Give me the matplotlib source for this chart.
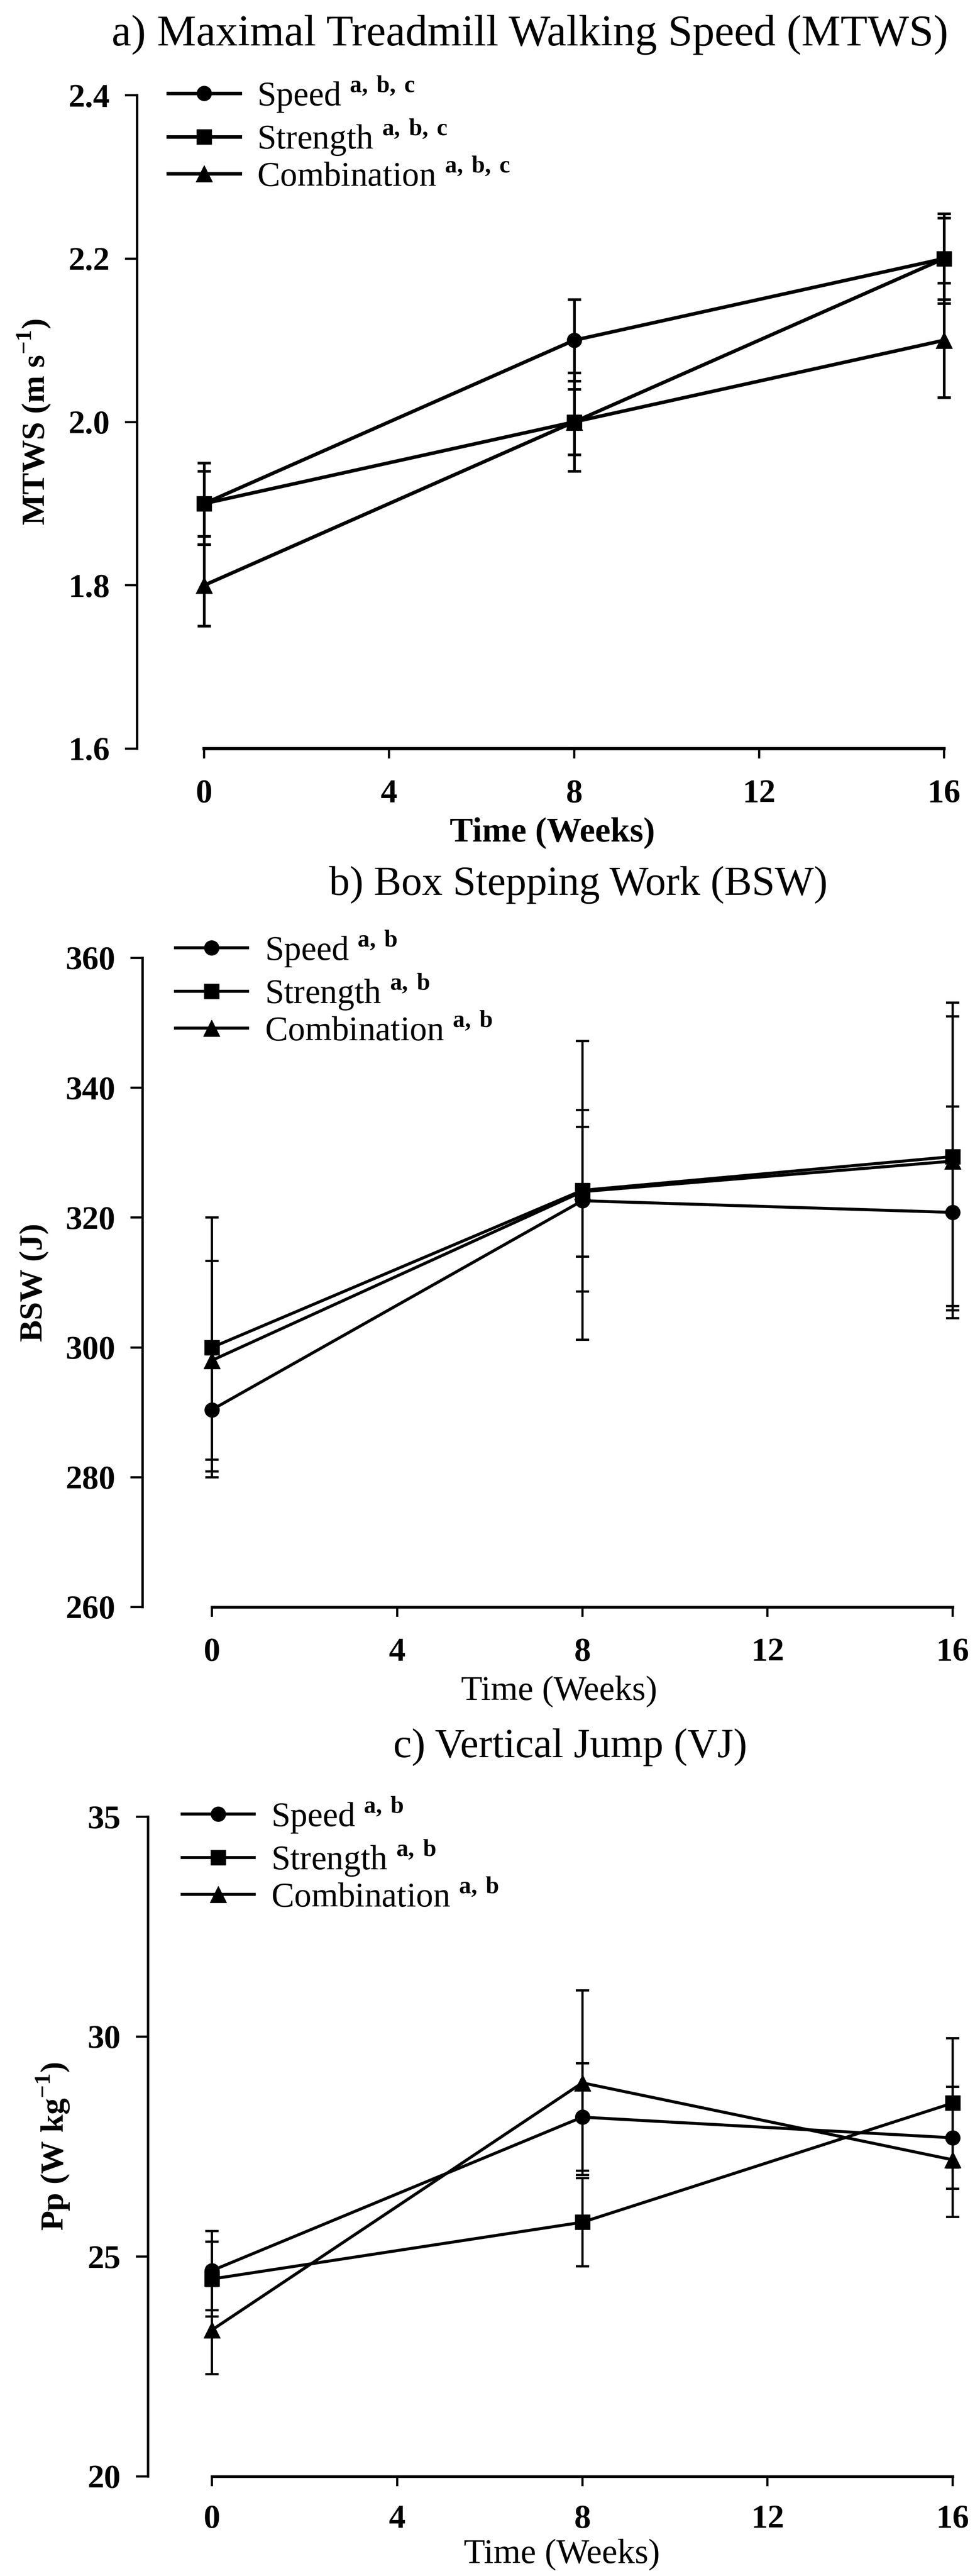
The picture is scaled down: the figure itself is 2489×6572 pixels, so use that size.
import matplotlib
matplotlib.use("Agg")
import matplotlib.pyplot as plt

# font setup: Times-like serif everywhere, bold superscripts through mathtext
plt.rcParams['font.family'] = ['Liberation Serif', 'DejaVu Serif']
plt.rcParams['mathtext.fontset'] = 'custom'
plt.rcParams['mathtext.rm'] = 'Liberation Serif'
plt.rcParams['mathtext.bf'] = 'Liberation Serif:bold'

# ---- data ----
weeks = [0, 8, 16]
groups = ['Speed', 'Strength', 'Combination']
markers = ['o', 's', '^']

# a) MTWS (m/s)
mtws_speed = [1.90, 2.10, 2.20]
mtws_speed_sd = [0.05, 0.05, 0.05]
mtws_strength = [1.90, 2.00, 2.20]
mtws_strength_sd = [0.04, 0.06, 0.055]
mtws_comb = [1.80, 2.00, 2.10]
mtws_comb_sd = [0.05, 0.04, 0.07]

# b) BSW (J)
bsw_speed = [290.4, 322.6, 320.8]
bsw_speed_sd = [9.5, 14.0, 16.3]
bsw_strength = [300.0, 324.2, 329.4]
bsw_strength_sd = [20.0, 23.0, 23.7]
bsw_comb = [298.0, 324.0, 328.7]
bsw_comb_sd = [15.3, 10.0, 22.3]

# c) VJ peak power (W/kg)
vj_speed = [24.68, 28.17, 27.70]
vj_speed_sd = [0.90, 1.22, 1.16]
vj_strength = [24.49, 25.78, 28.49]
vj_strength_sd = [0.85, 1.00, 1.47]
vj_comb = [23.33, 28.95, 27.20]
vj_comb_sd = [1.00, 2.10, 1.30]

x_ticks = [0, 4, 8, 12, 16]

W, H = 2489, 6572
fig = plt.figure(figsize=(W / 100, H / 100), dpi=100)


def make_axes(spine_px, x0_px, x16_px, top_px, bottom_px):
    # place an axes so the data coordinates land on the reference pixels
    ppw = (x16_px - x0_px) / 16.0
    xl = (spine_px - x0_px) / ppw
    xr = 16.5
    right_px = x0_px + xr * ppw
    ax = fig.add_axes([spine_px / W, 1 - bottom_px / H,
                       (right_px - spine_px) / W, (bottom_px - top_px) / H])
    ax.set_xlim(xl, xr)
    return ax


def draw_panel(ax, series, sds, ylim, yticks, yfmt, ylabel, sup, dark, leg_xy,
               xpad=38, xlabpad=14):
    lw = 6.5 if dark else 5.5
    handles = []
    for vals, sd, m in zip(series, sds, markers):
        ms = 30 if m == '^' else 27
        eb = ax.errorbar(weeks, vals, yerr=sd, color='black', marker=m,
                         ms=ms, lw=lw, elinewidth=lw * 0.75, capsize=12,
                         capthick=lw * 0.75, clip_on=False, zorder=3)
        handles.append(eb.lines[0])
    ax.set_ylim(*ylim)
    ax.set_yticks(yticks)
    ax.set_yticklabels([yfmt % v for v in yticks])
    ax.set_xticks(x_ticks)
    for s in ['top', 'right']:
        ax.spines[s].set_visible(False)
    ax.spines['left'].set_linewidth(4.5)
    ax.spines['bottom'].set_linewidth(6 if dark else 5)
    ax.spines['bottom'].set_bounds(0, 16)
    ax.tick_params(axis='y', direction='out', length=22, width=4, pad=28,
                   labelsize=61)
    ax.tick_params(axis='x', direction='out', length=18, width=4, pad=xpad,
                   labelsize=61)
    for t in ax.get_xticklabels() + ax.get_yticklabels():
        t.set_fontweight('bold')
    ax.set_ylabel(ylabel, fontsize=60, fontweight='bold', labelpad=30)
    ax.set_xlabel('Time (Weeks)', fontsize=64,
                  fontweight='bold' if dark else 'normal', labelpad=xlabpad)
    labels = [g + ' $^{\\mathbf{' + sup + '}}$' for g in groups]
    ax.legend(handles, labels, loc='upper left',
              bbox_to_anchor=(leg_xy[0] / W, 1 - leg_xy[1] / H),
              bbox_transform=fig.transFigure, frameon=False, borderpad=0,
              borderaxespad=0, handlelength=2.1, handletextpad=0.5,
              labelspacing=0.12, prop={'size': 63})


# 1. panel a
ax1 = make_axes(350, 521, 2410, 243, 1910)
draw_panel(ax1, [mtws_speed, mtws_strength, mtws_comb],
           [mtws_speed_sd, mtws_strength_sd, mtws_comb_sd],
           (1.6, 2.4), [1.6, 1.8, 2.0, 2.2, 2.4], '%.1f',
           'MTWS (m s$^{\\mathbf{-1}}$)', 'a,\\,b,\\,c', True, (429, 190))
fig.text(1353 / W, 1 - 89 / H, 'a) Maximal Treadmill Walking Speed (MTWS)',
         ha='center', va='center', fontsize=81)

# 2. panel b
ax2 = make_axes(364, 541, 2432, 2444, 4100)
draw_panel(ax2, [bsw_speed, bsw_strength, bsw_comb],
           [bsw_speed_sd, bsw_strength_sd, bsw_comb_sd],
           (260, 360), [260, 280, 300, 320, 340, 360], '%d',
           'BSW (J)', 'a,\\,b', False, (448, 2370))
fig.text(1476 / W, 1 - 2258 / H, 'b) Box Stepping Work (BSW)',
         ha='center', va='center', fontsize=76)

# 3. panel c (bottom of the page: a bit tighter so the label fits)
ax3 = make_axes(378, 541, 2432, 4635, 6318)
draw_panel(ax3, [vj_speed, vj_strength, vj_comb],
           [vj_speed_sd, vj_strength_sd, vj_comb_sd],
           (20, 35), [20, 25, 30, 35], '%d',
           'Pp (W kg$^{\\mathbf{-1}}$)', 'a,\\,b', False, (465, 4580),
           xpad=34, xlabpad=6)
fig.text(1456 / W, 1 - 4458 / H, 'c) Vertical Jump (VJ)',
         ha='center', va='center', fontsize=76)

fig.savefig('out.png', dpi=100)
